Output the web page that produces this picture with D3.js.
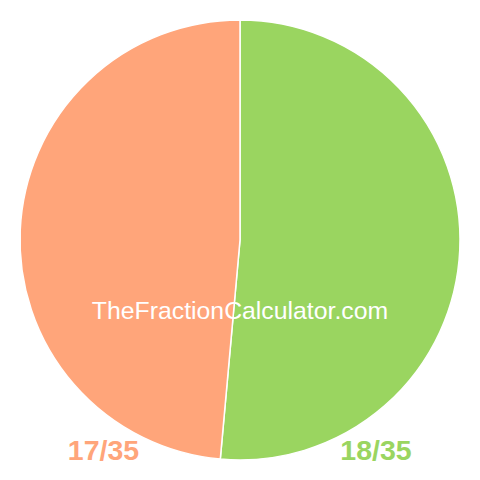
<!DOCTYPE html>
<html>
<head>
<meta charset="utf-8">
<script src="https://cdn.jsdelivr.net/npm/d3@7"></script>
<style>
  body { margin: 0; background: #fff; }
</style>
</head>
<body>
<svg id="canvas" width="480" height="480"></svg>
<script>
let labels = ["18/35", "17/35"];
let values = [18, 17];
let colors = ["#9ad560", "#ffa57a"];

let canvas = d3.select("#canvas");

let cx = 240, cy = 240, radius = 220;

let pie = d3.pie().sort(null).value(d => d);
let arc = d3.arc().innerRadius(0).outerRadius(radius);

let g = canvas.append("g").attr("transform", `translate(${cx},${cy})`);

g.selectAll("path")
    .data(pie(values))
    .enter()
    .append("path")
    .attr("d", arc)
    .attr("fill", (d, i) => colors[i])
    .attr("stroke", "#fff")
    .attr("stroke-width", 1.5);

// watermark
canvas.append("text")
    .attr("x", 240)
    .attr("y", 319)
    .attr("text-anchor", "middle")
    .style("font-family", "Liberation Sans, Arial, sans-serif")
    .style("font-size", "24.8px")
    .style("fill", "#fff")
    .text("TheFractionCalculator.com");

// fraction labels under the pie
let labelX = [376, 103.5];
canvas.selectAll("text.label")
    .data(labels)
    .enter()
    .append("text")
    .attr("class", "label")
    .attr("x", (d, i) => labelX[i])
    .attr("y", 460)
    .attr("text-anchor", "middle")
    .style("font-family", "Liberation Sans, Arial, sans-serif")
    .style("font-weight", "bold")
    .style("font-size", "28.5px")
    .style("fill", (d, i) => colors[i])
    .text(d => d);
</script>
</body>
</html>
